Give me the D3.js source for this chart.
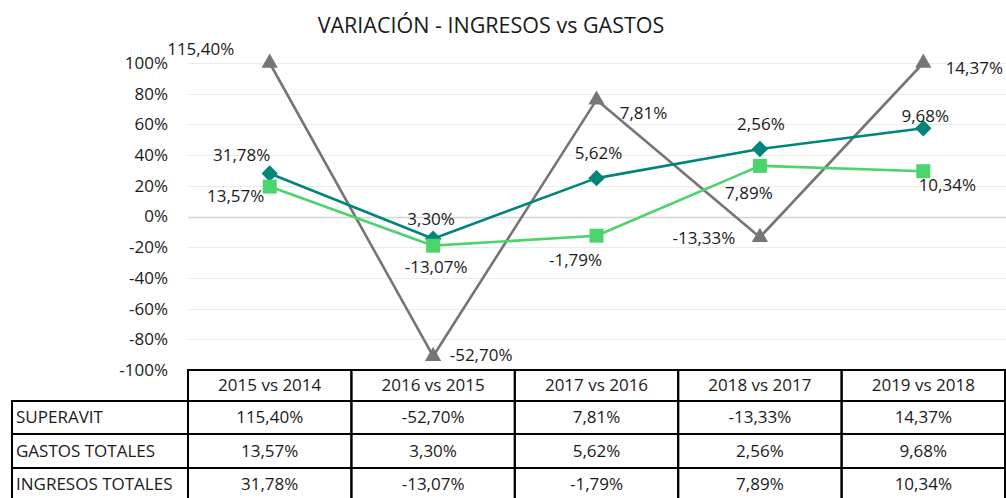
<!DOCTYPE html>
<html>
<head>
<meta charset="utf-8">
<script src="https://cdn.jsdelivr.net/npm/d3@7"></script>
<style>
  html, body { margin: 0; padding: 0; background: #fff; }
  svg { display: block; font-family: "Open Sans", "Noto Sans", sans-serif; }
</style>
</head>
<body>
<svg id="chart" width="1006" height="498"></svg>
<script>
// ---- Data ----
const categories = ["2015 vs 2014", "2016 vs 2015", "2017 vs 2016", "2018 vs 2017", "2019 vs 2018"];
const rowNames = ["SUPERAVIT", "GASTOS TOTALES", "INGRESOS TOTALES"];

// values shown in the data table (percent)
const superavit = [115.40, -52.70, 7.81, -13.33, 14.37];
const gastos = [13.57, 3.30, 5.62, 2.56, 9.68];
const ingresos = [31.78, -13.07, -1.79, 7.89, 10.34];

// plotted positions as they appear on the chart (fraction)
const superavitPlot = [1.00, -0.91, 0.76, -0.135, 1.00];
const gastosPlot = [0.28, -0.145, 0.25, 0.44, 0.575];
const ingresosPlot = [0.195, -0.19, -0.125, 0.33, 0.295];

// data labels printed next to the markers (percent)
const superavitLabels = [115.40, -52.70, 7.81, -13.33, 14.37];
const gastosLabels = [31.78, 3.30, 5.62, 2.56, 9.68];
const ingresosLabels = [13.57, -13.07, -1.79, 7.89, 10.34];

const yTicks = [-1, -0.8, -0.6, -0.4, -0.2, 0, 0.2, 0.4, 0.6, 0.8, 1];

// ---- Layout ----
const W = 1006, H = 498;
const plot = { left: 188, right: 1005, top: 63, bottom: 370 };
const rowH = [31, 33, 34, 33];   // header + 3 rows
const labelLeft = 12;
const FONT = "17px";

const es = d3.formatLocale({ decimal: ",", thousands: ".", grouping: [3], currency: ["", "€"], minus: "-" });
const pct2 = v => es.format(".2f")(v) + "%";
const pct0 = es.format(".0%");

const svg = d3.select("#chart");

const x = d3.scaleBand().domain(categories).range([plot.left, plot.right]).padding(0);
const cx = c => x(c) + x.bandwidth() / 2;
const y = d3.scaleLinear().domain([-1, 1]).range([plot.bottom, plot.top]);

// ---- Title ----
svg.append("text")
  .attr("x", 491).attr("y", 33)
  .attr("text-anchor", "middle")
  .style("font-size", "21.5px")
  .style("fill", "#1a1a1a")
  .text("VARIACIÓN - INGRESOS vs GASTOS");

// ---- Gridlines ----
svg.append("g")
  .selectAll("line")
  .data(yTicks)
  .join("line")
  .attr("x1", plot.left).attr("x2", W)
  .attr("y1", d => Math.round(y(d)) + 0.5).attr("y2", d => Math.round(y(d)) + 0.5)
  .attr("stroke", d => d === 0 ? "#d4d4d4" : "#ebebeb")
  .attr("stroke-width", d => d === 0 ? 1.5 : 1.2);

// ---- Y axis ----
const yAxis = svg.append("g")
  .attr("transform", `translate(${plot.left},0)`)
  .call(d3.axisLeft(y).tickValues(yTicks).tickFormat(pct0).tickSize(0).tickPadding(20));
yAxis.select(".domain").remove();
yAxis.selectAll("text")
  .style("font-family", "\"Open Sans\", \"Noto Sans\", sans-serif")
  .style("font-size", FONT)
  .style("fill", "#1a1a1a");

// ---- Series ----
const series = [
  { name: "SUPERAVIT", plot: superavitPlot, labels: superavitLabels, color: "#787474", symbol: d3.symbolTriangle, size: 115, rot: 0,
    offsets: [[-69, -14], [48, -1], [47, 13], [-56, 1], [51, 5]] },
  { name: "GASTOS TOTALES", plot: gastosPlot, labels: gastosLabels, color: "#00857a", symbol: d3.symbolSquare, size: 135, rot: 45,
    offsets: [[-28, -18], [-2, -20], [2, -25], [1, -25], [2, -12]] },
  { name: "INGRESOS TOTALES", plot: ingresosPlot, labels: ingresosLabels, color: "#4cd46c", symbol: d3.symbolSquare, size: 196, rot: 0,
    offsets: [[-34, 9], [3, 21], [-21, 24], [-11, 27], [24, 14]] }
];

const line = d3.line().x(d => cx(d.cat)).y(d => y(d.v));

series.forEach(s => {
  const pts = categories.map((c, i) => ({ cat: c, v: s.plot[i], label: s.labels[i], off: s.offsets[i] }));
  const g = svg.append("g");
  g.append("path")
    .datum(pts)
    .attr("d", line)
    .attr("fill", "none")
    .attr("stroke", s.color)
    .attr("stroke-width", 2.6)
    .attr("stroke-linejoin", "round");
  g.selectAll("path.mark")
    .data(pts)
    .join("path")
    .attr("class", "mark")
    .attr("d", d3.symbol().type(s.symbol).size(s.size))
    .attr("transform", d => `translate(${cx(d.cat)},${y(d.v)}) rotate(${s.rot})`)
    .attr("fill", s.color);
  s.pts = pts;
});

// data labels on top
series.forEach(s => {
  svg.append("g")
    .selectAll("text")
    .data(s.pts)
    .join("text")
    .attr("x", d => cx(d.cat) + d.off[0])
    .attr("y", d => y(d.v) + d.off[1])
    .attr("dy", "0.35em")
    .attr("text-anchor", "middle")
    .style("font-size", FONT)
    .style("fill", "#1a1a1a")
    .text(d => pct2(d.label));
});

// ---- Data table ----
const tableRows = [superavit, gastos, ingresos];
const rowTops = [];
let acc = plot.bottom;
rowH.forEach(h => { rowTops.push(acc); acc += h; });

const tg = svg.append("g");
const bw = x.bandwidth();

// header cells
tg.selectAll("rect.head")
  .data(categories)
  .join("rect")
  .attr("class", "head")
  .attr("x", d => x(d)).attr("y", rowTops[0])
  .attr("width", bw).attr("height", rowH[0])
  .attr("fill", "none").attr("stroke", "#000").attr("stroke-width", 2);

tg.selectAll("text.head")
  .data(categories)
  .join("text")
  .attr("class", "head")
  .attr("x", d => cx(d)).attr("y", rowTops[0] + rowH[0] / 2)
  .attr("dy", "0.35em").attr("text-anchor", "middle")
  .style("font-size", FONT).style("fill", "#1a1a1a")
  .text(d => d);

tableRows.forEach((vals, r) => {
  const top = rowTops[r + 1], h = rowH[r + 1];
  tg.append("rect")
    .attr("x", labelLeft).attr("y", top)
    .attr("width", plot.left - labelLeft).attr("height", h)
    .attr("fill", "none").attr("stroke", "#000").attr("stroke-width", 2);
  tg.append("text")
    .attr("x", labelLeft + 4).attr("y", top + h / 2)
    .attr("dy", "0.35em")
    .style("font-size", FONT).style("fill", "#1a1a1a")
    .text(rowNames[r]);
  tg.selectAll(null)
    .data(categories)
    .join("rect")
    .attr("x", d => x(d)).attr("y", top)
    .attr("width", bw).attr("height", h)
    .attr("fill", "none").attr("stroke", "#000").attr("stroke-width", 2);
  tg.selectAll(null)
    .data(categories)
    .join("text")
    .attr("x", d => cx(d)).attr("y", top + h / 2)
    .attr("dy", "0.35em").attr("text-anchor", "middle")
    .style("font-size", FONT).style("fill", "#1a1a1a")
    .text((d, i) => pct2(vals[i]));
});
</script>
</body>
</html>
